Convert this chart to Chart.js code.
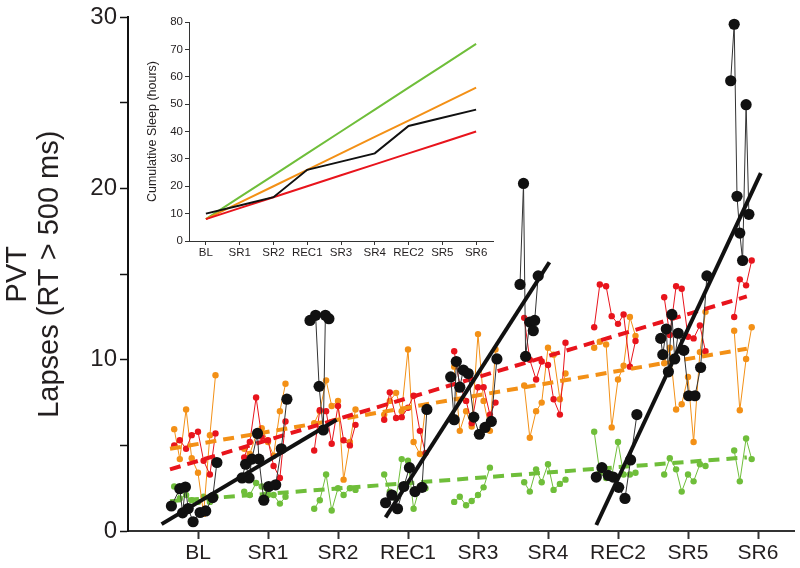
<!DOCTYPE html>
<html>
<head>
<meta charset="utf-8">
<script src="https://cdn.jsdelivr.net/npm/chart.js@4.4.1/dist/chart.umd.min.js"></script>
<style>
  html, body { margin: 0; padding: 0; background: #fff; }
  #wrap { position: relative; width: 800px; height: 568px; }
  #main { position: absolute; left: 0; top: 0; }
  #inset { position: absolute; left: 100px; top: 0; }
</style>
</head>
<body>
<div id="wrap">
  <canvas id="main" width="800" height="568"></canvas>
  <canvas id="inset" width="410" height="270"></canvas>
</div>
<script>
// Days of the protocol (x axis, one unit per day)
const dayLabels = ['BL', 'SR1', 'SR2', 'REC1', 'SR3', 'SR4', 'REC2', 'SR5', 'SR6'];

// Test times within a day (fraction of day relative to the day tick) for the 4h/6h/8h groups
const testOffsets = [-0.34, -0.26, -0.17, -0.09, 0, 0.08, 0.17, 0.25];

// PVT lapses per day, 4h group (red)
const redLapses = [
  [5.0, 5.3, 4.8, 5.6, 5.8, 4.1, 3.3, 5.7],
  [4.3, 5.2, 7.8, 5.5, 5.3, 3.8, 3.1, 6.4],
  [4.7, 7.05, 7.0, 5.1, 7.3, 5.3, 5.0, 6.2],
  [6.5, 8.1, 6.6, 6.65, 7.2, 7.9, 5.85, 4.55],
  [10.5, 8.5, 7.6, 6.3, 8.4, 8.4, 6.8, 7.5],
  [12.45, 10.0, 8.85, 9.9, 9.7, 7.7, 6.8, 11.0],
  [11.9, 14.4, 14.3, 12.55, 12.1, 12.65, 9.6, 11.1],
  [13.65, 11.45, 14.3, 14.15, 11.35, 11.25, 12.0, 10.5],
  [12.5, 14.7, 14.35, 15.8]
];

// 6h group (orange)
const orangeLapses = [
  [5.95, 4.2, 7.1, 4.25, 3.4, 1.0, 5.6, 9.1],
  [4.8, 4.5, 5.6, 6.0, 5.2, 4.4, 7.0, 8.6],
  [6.3, 7.0, 8.8, 7.3, 7.6, 3.0, 5.2, 7.1],
  [6.8, 7.6, 8.07, 7.0, 10.6, 5.2, 4.5, 7.2],
  [9.6, 5.85, 7.0, 6.1, 11.5, 7.6, 5.85, 10.6],
  [8.5, 5.45, 7.0, 7.5, 10.7, 10.3, 7.7, 9.2],
  [10.7, 11.05, 10.9, 6.05, 8.85, 9.65, 12.5, 11.4],
  [9.8, 10.7, 7.1, 7.4, 9.0, 5.2, 10.45, 12.8],
  [11.7, 7.05, 10.05, 11.9]
];

// 8h group (green)
const greenLapses = [
  [2.6, 1.9, 2.1, 1.8, 1.7, 2.0, 1.7, 2.0],
  [2.3, 2.1, 2.8, 2.6, 2.1, 2.1, 1.6, 2.0],
  [1.3, 1.8, 3.3, 1.2, 2.5, 2.1, 2.5, 2.4],
  [3.3, 2.3, 1.9, 4.2, 4.1, 1.3, 2.6, 2.5],
  [1.7, 2.0, 1.5, 1.75, 2.1, 2.55, 3.7],
  [2.85, 2.3, 3.6, 2.85, 3.9, 2.4, 2.75, 3.0],
  [5.8, 3.4, 3.1, 3.2, 5.2, 3.3, 3.3, 3.4],
  [3.3, 4.25, 3.6, 2.3, 3.3, 2.9, 3.9, 3.8],
  [4.7, 2.9, 5.4, 4.2]
];

// Split-sleep group (black): own test times (x in days) and lapses
const blackTimes = [
  [0.62, 0.74, 0.78, 0.82, 0.86, 0.93, 1.03, 1.11, 1.21, 1.27],
  [1.63, 1.68, 1.73, 1.77, 1.85, 1.87, 1.94, 2.01, 2.11, 2.19, 2.27],
  [2.60, 2.68, 2.73, 2.79, 2.82, 2.87],
  [3.68, 3.77, 3.85, 3.94, 4.02, 4.10, 4.20, 4.27],
  [4.61, 4.66, 4.69, 4.74, 4.79, 4.86, 4.94, 5.02, 5.10, 5.19, 5.27],
  [5.60, 5.65, 5.68, 5.74, 5.79, 5.81, 5.86],
  [6.69, 6.77, 6.86, 6.93, 7.01, 7.10, 7.18, 7.27],
  [7.61, 7.64, 7.69, 7.72, 7.77, 7.81, 7.86, 7.94, 8.01, 8.10, 8.18, 8.27],
  [8.61, 8.66, 8.70, 8.74, 8.78, 8.83, 8.87]
];
const blackLapses = [
  [1.46, 2.47, 1.06, 2.57, 1.31, 0.54, 1.08, 1.17, 1.95, 4.0],
  [3.1, 3.9, 3.1, 4.2, 5.7, 4.2, 1.8, 2.6, 2.7, 4.8, 7.7],
  [12.3, 12.6, 8.45, 5.9, 12.6, 12.4],
  [1.65, 2.1, 1.3, 2.6, 3.7, 2.3, 2.55, 7.1],
  [9.0, 6.5, 9.9, 8.4, 9.4, 9.2, 6.65, 5.65, 6.05, 6.4, 10.05],
  [14.4, 20.3, 10.2, 12.2, 11.7, 12.3, 14.9],
  [3.15, 3.7, 3.25, 3.15, 2.55, 1.9, 4.15, 6.8],
  [11.25, 10.3, 11.8, 9.3, 12.65, 10.05, 11.55, 10.55, 7.9, 7.9, 9.55, 14.9],
  [26.3, 29.6, 19.55, 17.4, 15.8, 24.9, 18.5]
];

// Regression lines: black is piecewise (3 blocks), colour groups over the whole protocol
const blackTrendX = [[0.48, 2.98], [3.68, 6.02], [6.69, 9.04]];
const blackTrendY = [[0.4, 6.5], [0.8, 15.7], [0.35, 20.9]];
const trendX = [0.6, 8.84];
const redTrend = [3.6, 13.7];
const orangeTrend = [4.8, 10.65];
const greenTrend = [1.74, 4.3];

// Inset: cumulative sleep (hours) per day
const sleepBlack = [10, 13, 16, 26, 29, 32, 42, 45, 48];
const sleepRed = [8, 12, 16, 20, 24, 28, 32, 36, 40];
const sleepOrange = [8, 14, 20, 26, 32, 38, 44, 50, 56];
const sleepGreen = [8, 16, 24, 32, 40, 48, 56, 64, 72];

const RED = '#e8141c';
const ORANGE = '#f39016';
const GREEN = '#6fbe3a';
const BLACK = '#111111';
const TEXT = '#231f20';
const FONT = "'Liberation Sans', Arial, sans-serif";

// build {x,y} points day by day; a null point breaks the line between days
function groupPoints(daily) {
  const pts = [];
  daily.forEach((vals, d) => {
    vals.forEach((v, i) => pts.push({ x: d + 1 + testOffsets[i], y: v }));
    pts.push({ x: d + 1.5, y: null });
  });
  return pts;
}

function blackPoints() {
  const pts = [];
  blackLapses.forEach((vals, d) => {
    vals.forEach((v, i) => pts.push({ x: blackTimes[d][i], y: v }));
    pts.push({ x: d + 1.5, y: null });
  });
  return pts;
}

function lineOf(xs, ys) {
  return xs.map((x, i) => ({ x, y: ys[i] }));
}

function groupSet(daily, color) {
  return {
    data: groupPoints(daily),
    showLine: true,
    spanGaps: false,
    borderColor: color,
    borderWidth: 1,
    pointRadius: 3.2,
    pointBackgroundColor: color,
    pointBorderWidth: 0
  };
}

function dashedSet(ys, color) {
  return {
    data: lineOf(trendX, ys),
    showLine: true,
    borderColor: color,
    borderWidth: 4,
    borderDash: [11, 7],
    pointRadius: 0
  };
}

const mainSets = [];
blackTrendX.forEach((xs, i) => {
  mainSets.push({
    data: lineOf(xs, blackTrendY[i]),
    showLine: true,
    borderColor: BLACK,
    borderWidth: 4,
    pointRadius: 0
  });
});
mainSets.push({
  data: blackPoints(),
  showLine: true,
  spanGaps: false,
  borderColor: '#333',
  borderWidth: 1,
  pointRadius: 5.6,
  pointBackgroundColor: BLACK,
  pointBorderWidth: 0
});
mainSets.push(dashedSet(redTrend, RED));
mainSets.push(dashedSet(orangeTrend, ORANGE));
mainSets.push(dashedSet(greenTrend, GREEN));
mainSets.push(groupSet(redLapses, RED));
mainSets.push(groupSet(orangeLapses, ORANGE));
mainSets.push(groupSet(greenLapses, GREEN));

new Chart(document.getElementById('main'), {
  type: 'scatter',
  data: { datasets: mainSets },
  options: {
    responsive: false,
    animation: false,
    layout: { padding: { top: 13, right: 0, left: 0, bottom: 0 } },
    plugins: { legend: { display: false }, tooltip: { enabled: false } },
    scales: {
      x: {
        type: 'linear',
        min: 0,
        max: 9.52,
        afterFit: (s) => { s.height = 37; },
        afterBuildTicks: (s) => { s.ticks = dayLabels.map((_, i) => ({ value: i + 1 })); },
        border: { display: true, color: '#333', width: 2 },
        grid: { display: true, drawOnChartArea: false, drawTicks: true, tickLength: 8, tickColor: '#333', tickWidth: 2 },
        ticks: {
          color: TEXT,
          padding: 2,
          font: { family: FONT, size: 21 },
          maxRotation: 0,
          autoSkip: false,
          callback: (v) => dayLabels[v - 1] || ''
        }
      },
      y: {
        min: 0,
        max: 30,
        afterFit: (s) => { s.width = 128; },
        border: { display: true, color: '#111', width: 2 },
        grid: { display: true, drawOnChartArea: false, drawTicks: true, tickLength: 8, tickColor: '#111', tickWidth: 1.5 },
        ticks: {
          stepSize: 5,
          color: TEXT,
          padding: 3,
          font: { family: FONT, size: 24 },
          callback: (v) => (v % 10 === 0 ? v : '')
        },
        title: {
          display: true,
          text: ['PVT', 'Lapses (RT > 500 ms)'],
          color: TEXT,
          font: { family: FONT, size: 29, lineHeight: 1.1 },
          padding: { top: 2, bottom: 0 }
        }
      }
    }
  }
});

function sleepSet(values, color) {
  return {
    data: values,
    borderColor: color,
    borderWidth: 2,
    pointRadius: 0,
    tension: 0
  };
}

new Chart(document.getElementById('inset'), {
  type: 'line',
  data: {
    labels: dayLabels,
    datasets: [
      sleepSet(sleepBlack, BLACK),
      sleepSet(sleepRed, RED),
      sleepSet(sleepOrange, ORANGE),
      sleepSet(sleepGreen, GREEN)
    ]
  },
  options: {
    responsive: false,
    animation: false,
    layout: { padding: { top: 22, right: 17, left: 0, bottom: 0 } },
    plugins: { legend: { display: false }, tooltip: { enabled: false } },
    scales: {
      x: {
        offset: true,
        afterFit: (s) => { s.height = 29; },
        border: { display: true, color: '#333', width: 1 },
        grid: { display: true, offset: false, drawOnChartArea: false, drawTicks: true, tickLength: 4, tickColor: '#333' },
        ticks: { color: TEXT, padding: 1, font: { family: FONT, size: 11.5 }, maxRotation: 0, autoSkip: false }
      },
      y: {
        min: 0,
        max: 80,
        afterFit: (s) => { s.width = 89; },
        border: { display: true, color: '#333', width: 1 },
        grid: { display: true, drawOnChartArea: false, drawTicks: true, tickLength: 4, tickColor: '#333' },
        ticks: {
          stepSize: 5,
          color: TEXT,
          padding: 2,
          font: { family: FONT, size: 11.5 },
          callback: (v) => (v % 10 === 0 ? v : '')
        },
        title: {
          display: true,
          text: 'Cumulative Sleep (hours)',
          color: TEXT,
          font: { family: FONT, size: 12.5, lineHeight: 1.2 },
          padding: { top: 45, bottom: 0 }
        }
      }
    }
  }
});
</script>
</body>
</html>
